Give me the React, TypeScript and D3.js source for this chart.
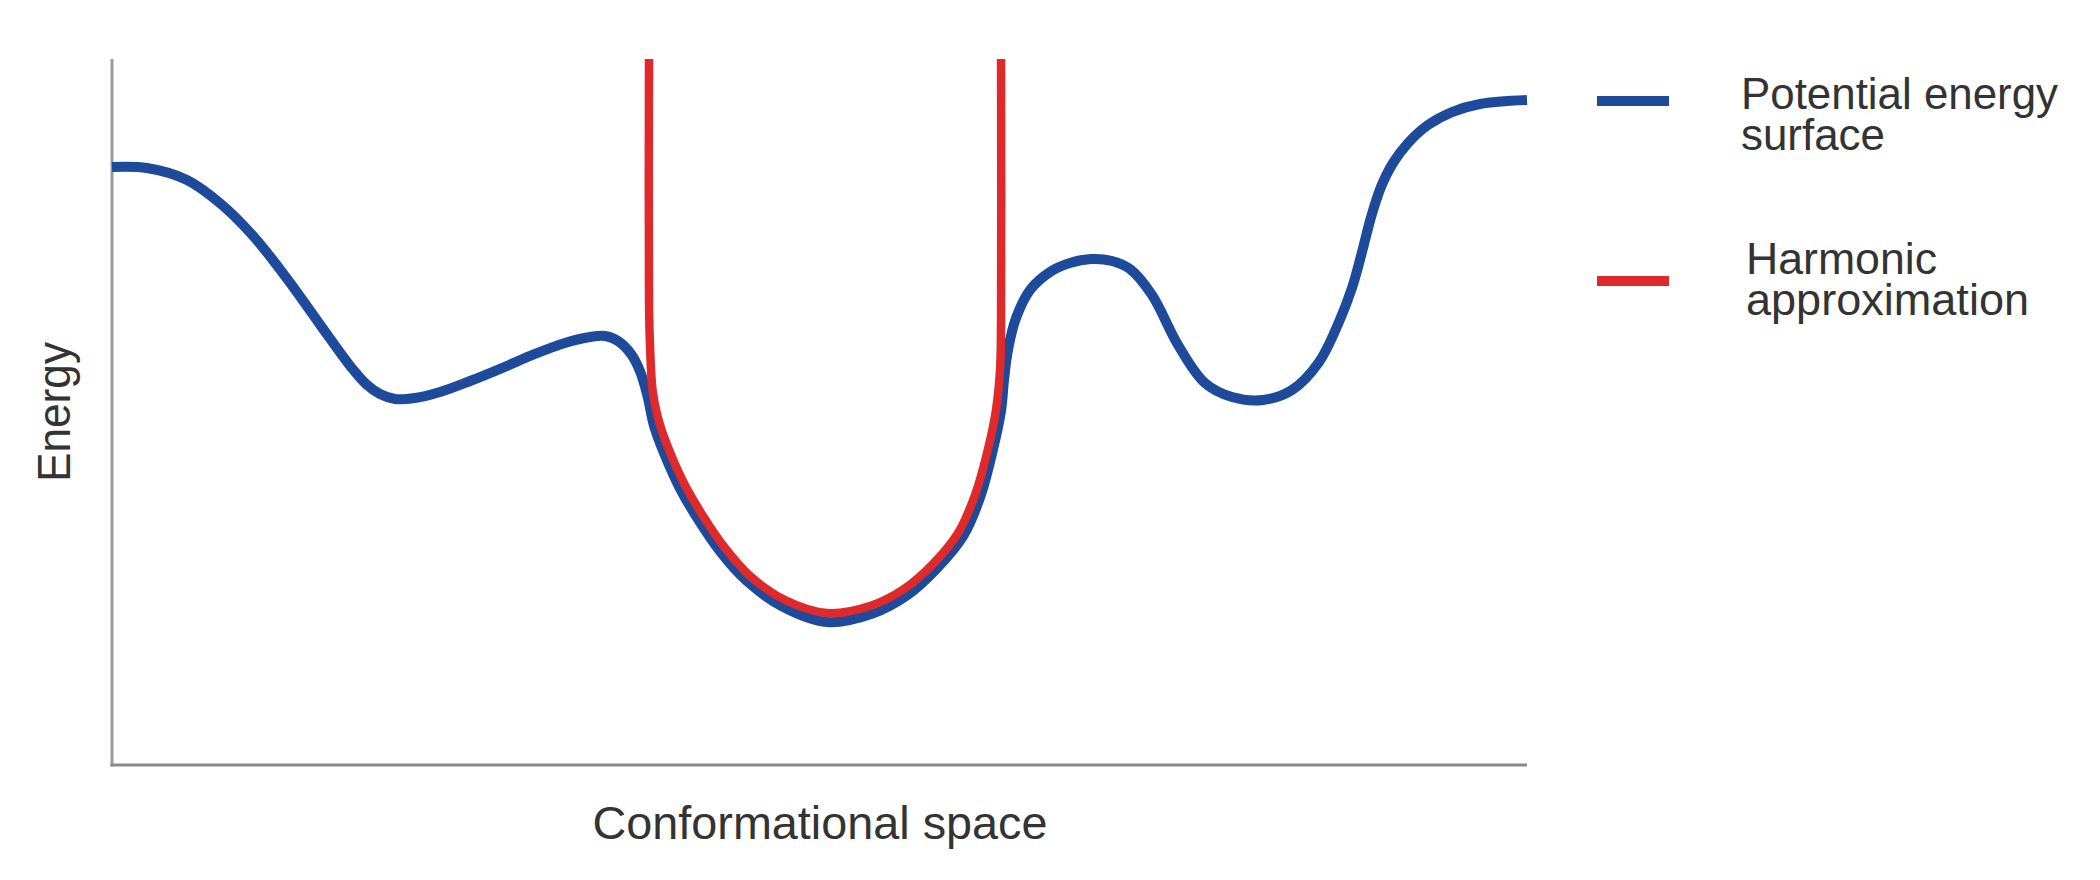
import React from "react";
import * as d3 from "d3";

// Potential energy surface (x: conformational coordinate 0..100, y: energy 0..100)
const pesX = [0, 2.47, 5.3, 7.7, 10.04, 12.44, 14.77, 16.89, 17.95, 18.94, 20.0, 21.41, 23.18, 25.3, 27.56, 29.89, 32.01, 33.78, 34.84, 35.76, 36.68, 37.31, 37.81, 38.32, 39.04, 40.11, 41.41, 42.99, 44.81, 47.35, 50.53, 53.75, 56.25, 58.25, 60.15, 61.36, 62.25, 62.83, 63.04, 63.32, 63.89, 64.88, 66.29, 67.7, 69.19, 70.67, 71.94, 73.5, 75.34, 77.24, 79.15, 81.34, 83.39, 85.3, 86.71, 87.63, 88.34, 88.98, 89.68, 90.53, 91.59, 93.0, 94.7, 96.68, 100];
const pesY = [84.7, 84.56, 82.86, 79.46, 74.79, 68.7, 62.18, 56.37, 53.97, 52.55, 51.84, 51.98, 52.83, 54.39, 56.23, 58.22, 59.77, 60.62, 60.76, 60.06, 58.22, 55.81, 52.55, 47.92, 44.02, 39.28, 34.82, 30.21, 26.15, 22.48, 20.25, 21.46, 24.12, 27.75, 32.41, 37.97, 44.59, 50.18, 54.53, 58.78, 63.31, 67.28, 69.83, 71.1, 71.67, 71.39, 70.25, 66.57, 59.49, 54.11, 52.12, 51.7, 53.12, 57.08, 62.75, 67.56, 72.66, 77.62, 81.87, 85.27, 88.1, 90.65, 92.49, 93.63, 94.19];

// Harmonic approximation
const harmX = [37.95, 37.95, 38.02, 38.23, 38.73, 39.43, 40.49, 41.77, 43.32, 45.09, 47.56, 50.53, 53.57, 55.97, 57.95, 59.79, 60.99, 61.91, 62.47, 62.76, 62.83, 62.83];
const harmY = [100, 65.86, 59.49, 52.69, 48.16, 44.33, 39.66, 35.27, 30.74, 26.77, 23.37, 21.53, 22.52, 24.93, 28.33, 32.86, 38.24, 44.76, 50.28, 55.95, 63.03, 100];

const seriesNames = [["Potential energy", "surface"], ["Harmonic", "approximation"]];
const seriesColors = ["#1d4a9b", "#de2a2a"];
const xTitle = "Conformational space";
const yTitle = "Energy";

export default function App() {
  const W = 2100;
  const H = 880;
  const x = d3.scaleLinear().domain([0, 100]).range([112, 1527]);
  const y = d3.scaleLinear().domain([0, 100]).range([765, 59]);
  const line = d3
    .line<[number, number]>()
    .x((d) => x(d[0]))
    .y((d) => y(d[1]))
    .curve(d3.curveCatmullRom.alpha(0.5));

  const pes: [number, number][] = pesX.map((v, i) => [v, pesY[i]]);
  const harm: [number, number][] = harmX.map((v, i) => [v, harmY[i]]);

  const font = "'Liberation Sans', Arial, Helvetica, sans-serif";
  const textFill = "#333333";

  const legendX0 = 1597;
  const legendX1 = 1669;
  const legendRows = [
    { ly: 101, t1y: 109, t2y: 150, tx: 1741, w1: 317, w2: 144 },
    { ly: 281, t1y: 274, t2y: 315, tx: 1746, w1: 191, w2: 283 },
  ];

  return (
    <svg
      width={W}
      height={H}
      style={{ position: "absolute", left: 0, top: 0, background: "#fff" }}
    >
      <rect x={0} y={0} width={W} height={H} fill="#fff" />
      {/* axes */}
      <line x1={x(0)} x2={x(0)} y1={y(0) + 1.5} y2={y(100)} stroke="#9a9a9a" strokeWidth={3} />
      <line x1={x(0) - 1.5} x2={x(100)} y1={y(0)} y2={y(0)} stroke="#8a8a8a" strokeWidth={3} />

      {/* curves */}
      <path d={line(pes) || ""} fill="none" stroke={seriesColors[0]} strokeWidth={10} strokeLinecap="butt" strokeLinejoin="round" />
      <path d={line(harm) || ""} fill="none" stroke={seriesColors[1]} strokeWidth={8.5} strokeLinecap="butt" strokeLinejoin="round" />

      {/* axis titles */}
      <text
        x={820}
        y={839}
        textAnchor="middle"
        fontFamily={font}
        fontSize={46}
        fill={textFill}
        textLength={455}
        lengthAdjust="spacingAndGlyphs"
      >
        {xTitle}
      </text>
      <text
        transform="translate(70,412) rotate(-90)"
        textAnchor="middle"
        fontFamily={font}
        fontSize={46}
        fill={textFill}
        textLength={140}
        lengthAdjust="spacingAndGlyphs"
      >
        {yTitle}
      </text>

      {/* legend */}
      {legendRows.map((r, i) => (
        <g key={i}>
          <line x1={legendX0} x2={legendX1} y1={r.ly} y2={r.ly} stroke={seriesColors[i]} strokeWidth={10} />
          <text x={r.tx} y={r.t1y} fontFamily={font} fontSize={45} fill={textFill} textLength={r.w1} lengthAdjust="spacingAndGlyphs">
            {seriesNames[i][0]}
          </text>
          <text x={r.tx} y={r.t2y} fontFamily={font} fontSize={45} fill={textFill} textLength={r.w2} lengthAdjust="spacingAndGlyphs">
            {seriesNames[i][1]}
          </text>
        </g>
      ))}
    </svg>
  );
}
